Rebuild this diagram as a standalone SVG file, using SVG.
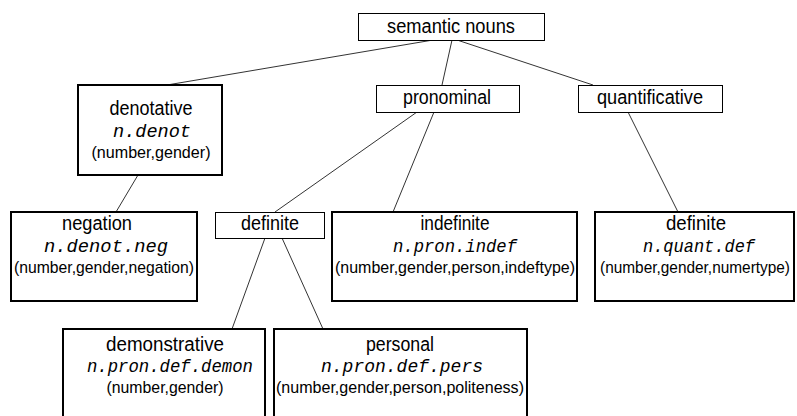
<svg xmlns="http://www.w3.org/2000/svg" width="797" height="416" viewBox="0 0 797 416">
<style>
.bg{fill:#fff}
.thin{fill:#fff;stroke:#000;stroke-width:1}
.thick{fill:#fff;stroke:#000;stroke-width:2}
.t{font-family:"Liberation Sans",Arial,sans-serif;font-size:20px;fill:#000;text-anchor:middle}
.m{font-family:"Liberation Mono","DejaVu Sans Mono",monospace;font-style:italic;font-size:19px;fill:#000;text-anchor:middle}
.p{font-family:"Liberation Sans",Arial,sans-serif;font-size:17px;fill:#000;text-anchor:middle}
.ps{font-size:16px}
.c line{stroke:#333;stroke-width:1}
</style>
<rect class="bg" x="0" y="0" width="797" height="416"/>
<g id="connectors" class="c">
<line x1="433" y1="40" x2="167" y2="85"/>
<line x1="452" y1="40" x2="442" y2="85"/>
<line x1="457" y1="40" x2="593" y2="85"/>
<line x1="138" y1="175" x2="116" y2="212"/>
<line x1="417" y1="112" x2="275" y2="212"/>
<line x1="434" y1="112" x2="393" y2="212"/>
<line x1="628" y1="112" x2="678" y2="212"/>
<line x1="265" y1="238" x2="232" y2="329"/>
<line x1="282" y1="238" x2="323" y2="329"/>
</g>
<g id="semantic-nouns">
<rect class="thin" x="358.5" y="13.5" width="186" height="27"/>
<text class="t" x="451" y="33" textLength="128" lengthAdjust="spacingAndGlyphs">semantic nouns</text>
</g>
<g id="denotative">
<rect class="thick" x="78" y="85" width="144" height="90"/>
<text class="t" x="151" y="115" textLength="83" lengthAdjust="spacingAndGlyphs">denotative</text>
<text class="m" x="152" y="137" textLength="78" lengthAdjust="spacingAndGlyphs">n.denot</text>
<text class="p" x="151" y="158" textLength="119" lengthAdjust="spacingAndGlyphs">(number,gender)</text>
</g>
<g id="pronominal">
<rect class="thin" x="376.5" y="85.5" width="143" height="27"/>
<text class="t" x="447" y="104" textLength="88" lengthAdjust="spacingAndGlyphs">pronominal</text>
</g>
<g id="quantificative">
<rect class="thin" x="578.5" y="85.5" width="144" height="27"/>
<text class="t" x="650" y="104" textLength="106" lengthAdjust="spacingAndGlyphs">quantificative</text>
</g>
<g id="negation">
<rect class="thick" x="11" y="212" width="186" height="89"/>
<text class="t" x="97" y="230" textLength="70" lengthAdjust="spacingAndGlyphs">negation</text>
<text class="m" x="106" y="252" textLength="124" lengthAdjust="spacingAndGlyphs">n.denot.neg</text>
<text class="p" x="104" y="273" textLength="180" lengthAdjust="spacingAndGlyphs">(number,gender,negation)</text>
</g>
<g id="definite-pron">
<rect class="thin" x="215.5" y="212.5" width="109" height="26"/>
<text class="t" x="270" y="230" textLength="58" lengthAdjust="spacingAndGlyphs">definite</text>
</g>
<g id="indefinite">
<rect class="thick" x="332" y="212" width="245" height="89"/>
<text class="t" x="455" y="230" textLength="69" lengthAdjust="spacingAndGlyphs">indefinite</text>
<text class="m" x="455" y="252" textLength="124" lengthAdjust="spacingAndGlyphs">n.pron.indef</text>
<text class="p" x="455" y="273" textLength="240" lengthAdjust="spacingAndGlyphs">(number,gender,person,indeftype)</text>
</g>
<g id="definite-quant">
<rect class="thick" x="595" y="212" width="199" height="89"/>
<text class="t" x="696" y="230" textLength="60" lengthAdjust="spacingAndGlyphs">definite</text>
<text class="m" x="699" y="252" textLength="112" lengthAdjust="spacingAndGlyphs">n.quant.def</text>
<text class="p ps" x="695" y="273" textLength="190" lengthAdjust="spacingAndGlyphs">(number,gender,numertype)</text>
</g>
<g id="demonstrative">
<rect class="thick" x="63" y="329" width="202" height="100"/>
<text class="t" x="165" y="351" textLength="118" lengthAdjust="spacingAndGlyphs">demonstrative</text>
<text class="m" x="170" y="372" textLength="166" lengthAdjust="spacingAndGlyphs">n.pron.def.demon</text>
<text class="p" x="165" y="393" textLength="117" lengthAdjust="spacingAndGlyphs">(number,gender)</text>
</g>
<g id="personal">
<rect class="thick" x="274" y="329" width="253" height="100"/>
<text class="t" x="400" y="351" textLength="68" lengthAdjust="spacingAndGlyphs">personal</text>
<text class="m" x="402" y="372" textLength="162" lengthAdjust="spacingAndGlyphs">n.pron.def.pers</text>
<text class="p" x="400" y="393" textLength="248" lengthAdjust="spacingAndGlyphs">(number,gender,person,politeness)</text>
</g>
</svg>
